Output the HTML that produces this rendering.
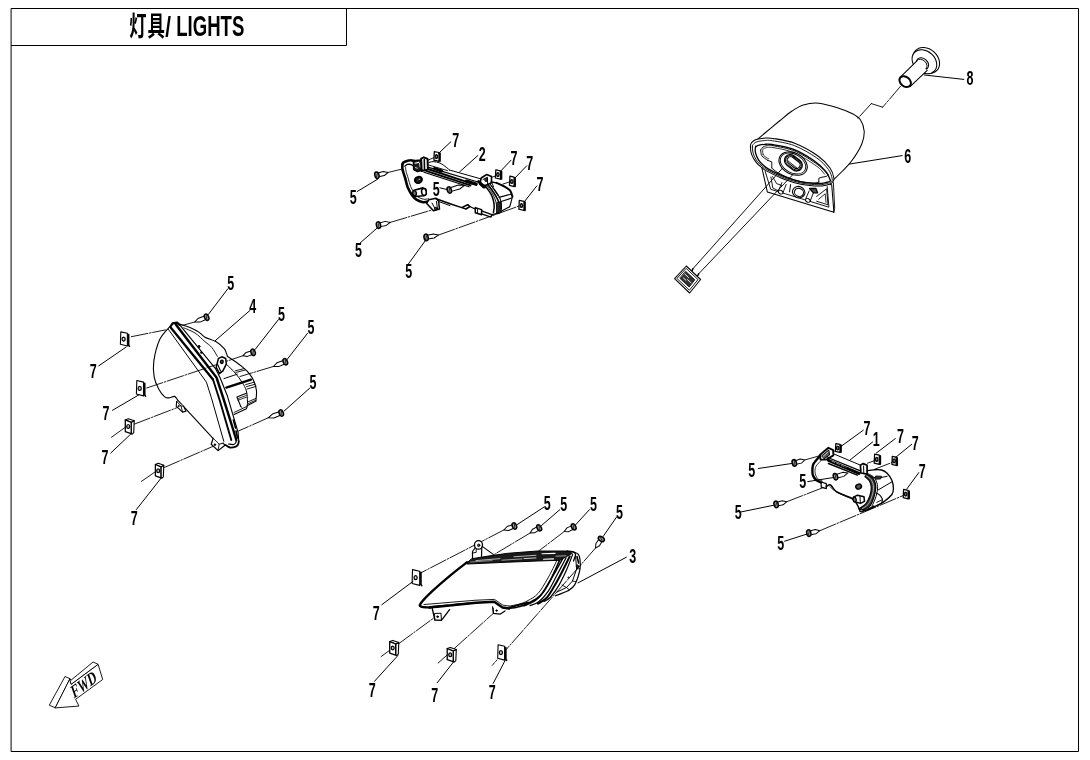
<!DOCTYPE html><html><head><meta charset="utf-8"><title>LIGHTS</title><style>html,body{margin:0;padding:0;background:#fff;overflow:hidden}svg{display:block;font-family:"Liberation Sans",sans-serif;will-change:transform}text{fill:#000}</style></head><body><svg width="1090" height="760" viewBox="0 0 1090 760" stroke-linecap="round" stroke-linejoin="round"><rect width="1090" height="760" fill="#fff"/>
<rect x="11.5" y="8.5" width="1067" height="743" fill="none" stroke="#000" stroke-width="1"/>
<path d="M11.5,45.5 H346.5 V8.5" fill="none" stroke="#000" stroke-width="1"/>
<text transform="translate(129.3,35.8) scale(0.641,1)" font-size="27" font-weight="bold" font-family="&quot;Liberation Sans&quot;,&quot;Noto Sans CJK SC&quot;,sans-serif">灯</text>
<text transform="translate(147.4,35.6) scale(0.643,1)" font-size="27" font-weight="bold" font-family="&quot;Liberation Sans&quot;,&quot;Noto Sans CJK SC&quot;,sans-serif">具</text>
<text transform="translate(165.3,35.7) scale(0.76,1)" font-size="27.2" font-weight="bold">/</text>
<text transform="translate(176.2,35.7) scale(0.645,1)" font-size="28.8" font-weight="bold">LIGHTS</text>
<line x1="388" y1="172.5" x2="401.5" y2="169.2" stroke="#000" stroke-width="0.9" stroke-dasharray="17 1.6 1.6 1.6"/>
<line x1="390.3" y1="222.4" x2="433.9" y2="209.4" stroke="#000" stroke-width="0.9" stroke-dasharray="17 1.6 1.6 1.6"/>
<line x1="438.4" y1="235.1" x2="518.9" y2="206.1" stroke="#000" stroke-width="0.9" stroke-dasharray="17 1.6 1.6 1.6"/>
<line x1="427.5" y1="160.5" x2="434" y2="157.5" stroke="#000" stroke-width="0.9" stroke-dasharray="17 1.6 1.6 1.6"/>
<line x1="491" y1="177.5" x2="495.5" y2="176" stroke="#000" stroke-width="0.9" stroke-dasharray="17 1.6 1.6 1.6"/>
<line x1="503" y1="184" x2="509.5" y2="182" stroke="#000" stroke-width="0.9" stroke-dasharray="17 1.6 1.6 1.6"/>
<g transform="translate(376.9,175.2) rotate(-13.7)"><path d="M1.5,-1.9 L7.1,-2.1 L11.4,0 L7.1,2.1 L1.5,1.9" fill="#fff" stroke="#000" stroke-width="1"/><ellipse cx="0" cy="0" rx="2.1" ry="3.3" fill="#999" stroke="#000" stroke-width="1.5"/><path d="M-0.9,1.6 L0.9,-1.6" stroke="#222" stroke-width="0.9" fill="none"/></g>
<g transform="translate(378.5,225.1) rotate(-12.9)"><path d="M1.5,-1.9 L7.5,-2.1 L12.1,0 L7.5,2.1 L1.5,1.9" fill="#fff" stroke="#000" stroke-width="1"/><ellipse cx="0" cy="0" rx="2.1" ry="3.3" fill="#999" stroke="#000" stroke-width="1.5"/><path d="M-0.9,1.6 L0.9,-1.6" stroke="#222" stroke-width="0.9" fill="none"/></g>
<g transform="translate(426.1,237.4) rotate(-10.6)"><path d="M1.5,-1.9 L7.8,-2.1 L12.5,0 L7.8,2.1 L1.5,1.9" fill="#fff" stroke="#000" stroke-width="1"/><ellipse cx="0" cy="0" rx="2.1" ry="3.3" fill="#999" stroke="#000" stroke-width="1.5"/><path d="M-0.9,1.6 L0.9,-1.6" stroke="#222" stroke-width="0.9" fill="none"/></g>
<g transform="translate(449.3,190) rotate(-17)"><path d="M1.5,-1.9 L10.2,-2.1 L16.4,0 L10.2,2.1 L1.5,1.9" fill="#fff" stroke="#000" stroke-width="1"/><ellipse cx="0" cy="0" rx="2.1" ry="3.3" fill="#999" stroke="#000" stroke-width="1.5"/><path d="M-0.9,1.6 L0.9,-1.6" stroke="#222" stroke-width="0.9" fill="none"/></g>
<path d="M434.3,151.6 L439,152.5 L439,161.4 L433.9,160.2 Z" stroke="#000" stroke-width="1.25" fill="#fff" />
<path d="M439.9,153.3 L439.9,161.1" stroke="#000" stroke-width="1.9" fill="none" />
<ellipse cx="436.4" cy="156.6" rx="1.3" ry="2" fill="#222" stroke="#000" stroke-width="1.1"/>
<ellipse cx="436.4" cy="156.6" rx="0.5" ry="0.8" fill="#bbb" stroke="none"/>
<path d="M495.8,169.9 L500.5,170.8 L500.5,179.2 L495.4,178 Z" stroke="#000" stroke-width="1.25" fill="#fff" />
<path d="M501.4,171.6 L501.4,178.9" stroke="#000" stroke-width="1.9" fill="none" />
<ellipse cx="497.9" cy="174.6" rx="1.3" ry="2" fill="#222" stroke="#000" stroke-width="1.1"/>
<ellipse cx="497.9" cy="174.6" rx="0.5" ry="0.8" fill="#bbb" stroke="none"/>
<path d="M509.9,176.2 L514.1,177.2 L514.1,186.6 L509.5,185.3 Z" stroke="#000" stroke-width="1.25" fill="#fff" />
<path d="M515,178 L515,186.3" stroke="#000" stroke-width="1.9" fill="none" />
<ellipse cx="511.8" cy="181.5" rx="1.3" ry="2" fill="#222" stroke="#000" stroke-width="1.1"/>
<ellipse cx="511.8" cy="181.5" rx="0.5" ry="0.8" fill="#bbb" stroke="none"/>
<path d="M519.3,200.3 L524,201.3 L524,210.5 L518.9,209.2 Z" stroke="#000" stroke-width="1.25" fill="#fff" />
<path d="M524.9,202.1 L524.9,210.2" stroke="#000" stroke-width="1.9" fill="none" />
<ellipse cx="521.4" cy="205.5" rx="1.3" ry="2" fill="#222" stroke="#000" stroke-width="1.1"/>
<ellipse cx="521.4" cy="205.5" rx="0.5" ry="0.8" fill="#bbb" stroke="none"/>
<line x1="357.2" y1="191.5" x2="377.6" y2="179.2" stroke="#000" stroke-width="1"/>
<line x1="360.1" y1="243" x2="378" y2="227.3" stroke="#000" stroke-width="1"/>
<line x1="408.2" y1="264.2" x2="426.1" y2="239.6" stroke="#000" stroke-width="1"/>
<line x1="439.8" y1="187.8" x2="447.3" y2="189.6" stroke="#000" stroke-width="1"/>
<line x1="450.7" y1="141.9" x2="438.4" y2="153.5" stroke="#000" stroke-width="1"/>
<line x1="477.8" y1="155.6" x2="459.6" y2="171.9" stroke="#000" stroke-width="1"/>
<line x1="511" y1="160.2" x2="499.9" y2="171.9" stroke="#000" stroke-width="1"/>
<line x1="526.7" y1="165.8" x2="514.4" y2="178.6" stroke="#000" stroke-width="1"/>
<line x1="536.7" y1="186" x2="524.5" y2="201.6" stroke="#000" stroke-width="1"/>
<text transform="translate(455.8,146.6) scale(0.625,1)" text-anchor="middle" font-size="20" font-weight="bold">7</text>
<text transform="translate(482.3,160.5) scale(0.625,1)" text-anchor="middle" font-size="20" font-weight="bold">2</text>
<text transform="translate(514,164.8) scale(0.625,1)" text-anchor="middle" font-size="20" font-weight="bold">7</text>
<text transform="translate(529.7,169.7) scale(0.625,1)" text-anchor="middle" font-size="20" font-weight="bold">7</text>
<text transform="translate(540,190.5) scale(0.625,1)" text-anchor="middle" font-size="20" font-weight="bold">7</text>
<text transform="translate(436.2,195.9) scale(0.625,1)" text-anchor="middle" font-size="20" font-weight="bold">5</text>
<text transform="translate(353.3,203.7) scale(0.625,1)" text-anchor="middle" font-size="20" font-weight="bold">5</text>
<text transform="translate(358.4,257.1) scale(0.625,1)" text-anchor="middle" font-size="20" font-weight="bold">5</text>
<text transform="translate(408.7,278.4) scale(0.625,1)" text-anchor="middle" font-size="20" font-weight="bold">5</text>
<path d="M402.4,164.4 C402.4,165.3 402.1,167.4 402.6,169.7 C403.1,172 404.3,175.2 405.2,178.2 C406.1,181.2 406.6,184.8 407.8,187.6 C409,190.4 410.7,193.3 412.1,195.3 C413.5,197.3 414.5,198.4 416.4,199.6 C418.2,200.8 421.1,201.9 423.2,202.2 C425.3,202.5 428,201.4 429,201.2" stroke="#000" stroke-width="2.6" fill="none" />
<path d="M405.6,167.5 C405.7,168.1 405.6,169.2 406,171 C406.4,172.8 407.4,175.6 408.2,178.2 C409,180.8 409.6,183.9 410.6,186.4 C411.6,188.9 413.2,191.4 414.4,193.2 C415.6,195 416.5,196 418,197 C419.5,198 421.9,198.9 423.6,199.2 C425.4,199.5 427.7,198.9 428.5,198.8" stroke="#000" stroke-width="0.9" fill="none" />
<path d="M402.4,164.4 C402.6,164.1 402.8,163.1 403.4,162.6 C404,162.1 404.9,161.6 406.1,161.2 C407.3,160.8 409.1,160.2 410.4,160.2 C411.7,160.1 413.4,160.8 414,160.9" stroke="#000" stroke-width="2.6" fill="none" />
<path d="M404.8,166.2 L407,164.4 L409.6,164.1 L413.4,165.6" stroke="#000" stroke-width="1.3" fill="none" />
<path d="M413.3,160.6 L421.2,160 L421.5,170.6 L417.5,171.6 L413.6,169.6 Z" stroke="#000" stroke-width="1.4" fill="#1a1a1a" />
<path d="M415,163.2 L418.6,162.4" stroke="#fff" stroke-width="1.1" fill="none" />
<path d="M415.4,167.6 L417.4,168.2" stroke="#eee" stroke-width="0.9" fill="none" />
<path d="M419.6,163 L420,167" stroke="#eee" stroke-width="0.9" fill="none" />
<path d="M421.2,158.5 L423.8,157.3 L427.6,158.8 L427.8,169.6 L421.7,171 Z" stroke="#000" stroke-width="1.9" fill="#fff" />
<line x1="424.3" y1="159.6" x2="424.5" y2="170" stroke="#000" stroke-width="1.6"/>
<line x1="427.8" y1="167.2" x2="478" y2="182" stroke="#000" stroke-width="1.2"/>
<line x1="427.8" y1="169" x2="472" y2="183.6" stroke="#000" stroke-width="1.9"/>
<line x1="426" y1="170.8" x2="470.5" y2="185.4" stroke="#000" stroke-width="1.9"/>
<line x1="424" y1="172.2" x2="469" y2="186.8" stroke="#000" stroke-width="1.2"/>
<path d="M434.6,168.6 L441.7,171" stroke="#000" stroke-width="3.2" fill="none" />
<path d="M466.5,181.2 L476,184.2" stroke="#000" stroke-width="3.4" fill="none" />
<path d="M428,162.8 C428.8,162.6 431,161.6 433,161.6 C435,161.6 437.6,162.1 439.8,163 C442,163.9 444.6,166 446.2,167.2 C447.8,168.4 448.9,169.5 449.4,170" stroke="#000" stroke-width="1" fill="none" />
<line x1="449.4" y1="170" x2="482.8" y2="179.4" stroke="#000" stroke-width="1"/>
<line x1="428" y1="164.8" x2="447.5" y2="170.6" stroke="#000" stroke-width="0.9"/>
<ellipse cx="418.4" cy="179.9" rx="3.6" ry="3" transform="rotate(-20 418.4 179.9)" fill="#222" stroke="#000" stroke-width="2"/>
<ellipse cx="419.4" cy="179.2" rx="1" ry="0.8" transform="rotate(-20 419.4 179.2)" fill="#eee" stroke="#000" stroke-width="0.5"/>
<path d="M414,190.2 L423,187.9 L425.8,189.3 L426.3,193.8 L423.8,195.8 L415,196.5 L412.6,194 Z" stroke="#000" stroke-width="1.6" fill="#fff" />
<ellipse cx="423.9" cy="192" rx="2.3" ry="3.4" transform="rotate(-10 423.9 192)" fill="#fff" stroke="#000" stroke-width="1.5"/>
<ellipse cx="414.6" cy="193.2" rx="1.8" ry="2.6" transform="rotate(-10 414.6 193.2)" fill="#777" stroke="#000" stroke-width="1.4"/>
<path d="M428.8,199.8 L436.1,198.3 L438.6,201.3 L439.5,209 L433.5,210.7 L426.7,203.5 Z" stroke="#000" stroke-width="1.5" fill="#fff" />
<line x1="432" y1="203" x2="435.5" y2="209.5" stroke="#000" stroke-width="1"/>
<line x1="436.5" y1="201.5" x2="437.5" y2="209" stroke="#000" stroke-width="1"/>
<ellipse cx="435.8" cy="208.6" rx="1.3" ry="1.3" transform="rotate(0 435.8 208.6)" fill="#444" stroke="#000" stroke-width="1"/>
<path d="M436.1,198.8 L450.8,204 L461.7,207.6 L467.7,204.7 L469.9,206.5 L466,209 L461.7,207.6" stroke="#000" stroke-width="1.5" fill="none" />
<line x1="438.6" y1="201.5" x2="450" y2="205.6" stroke="#000" stroke-width="1"/>
<path d="M469.9,206.5 L475,209" stroke="#000" stroke-width="1.3" fill="none" />
<path d="M475.3,207.6 L481.6,209.6 L481.6,214.7 L475.3,212.7 Z" stroke="#000" stroke-width="1.5" fill="#fff" />
<line x1="477.5" y1="208.5" x2="477.5" y2="213.2" stroke="#000" stroke-width="0.9"/>
<path d="M481.2,178 L486.7,174.5 L491.5,176.6 L491.5,182.8 L485.3,185.6 L479.8,184.2 Z" stroke="#000" stroke-width="1.6" fill="#fff" />
<path d="M483,179.5 L487.5,177.2 L487.6,183.6" stroke="#000" stroke-width="1" fill="none" />
<ellipse cx="486" cy="180" rx="1.2" ry="1.6" transform="rotate(0 486 180)" fill="#555" stroke="#000" stroke-width="1"/>
<path d="M478.6,181.6 L484.6,187" stroke="#000" stroke-width="3" fill="none" />
<path d="M480,184.6 L483.4,187.8" stroke="#000" stroke-width="1.4" fill="none" />
<path d="M491.4,182 L496.6,182.8" stroke="#000" stroke-width="1.3" fill="none" />
<path d="M496.6,182.8 C497.8,183.3 501.3,184.8 503.5,186 C505.7,187.2 508.5,188.5 510,190.3 C511.5,192.1 512,195.6 512.4,196.6" stroke="#000" stroke-width="2" fill="none" />
<path d="M512.4,196.6 C512.1,197.9 510.9,202.8 510.4,204.5 C509.9,206.2 509.7,206.4 509.6,206.8" stroke="#000" stroke-width="1.1" fill="none" />
<path d="M509.6,206.8 L502.1,210.8 L499,212.6" stroke="#000" stroke-width="1.2" fill="none" />
<path d="M487.9,184.7 C488.7,185.8 491.2,188.9 492.6,191 C494.1,193.1 495.6,195.4 496.6,197.4 C497.7,199.4 498.4,200.9 498.9,202.9 C499.4,204.9 499.7,207.5 499.7,209.2 C499.7,210.9 499.1,212.4 499,213.1" stroke="#000" stroke-width="1.6" fill="none" />
<path d="M485.5,186.3 C486.4,187.6 489.7,191.8 491,194.2 C492.3,196.6 492.9,198.4 493.4,200.5 C493.9,202.6 494.2,204.8 494.2,206.8 C494.2,208.8 493.5,211.6 493.4,212.6" stroke="#000" stroke-width="1.5" fill="none" />
<path d="M486.8,185.6 C487.6,186.8 490.4,190.4 491.8,192.6 C493.2,194.8 494.2,196.9 495,199 C495.8,201.1 496.2,202.7 496.5,205 C496.8,207.3 496.6,211.5 496.6,212.8" stroke="#000" stroke-width="0.9" fill="none" />
<path d="M490.2,184.4 C491,185.4 493.7,188.5 495.2,190.6 C496.7,192.7 498.2,194.8 499.2,196.8 C500.2,198.8 500.8,200.5 501.2,202.5 C501.6,204.5 501.4,207.9 501.5,209" stroke="#000" stroke-width="1.1" fill="none" />
<path d="M497.2,202.5 L500.8,202 L501.3,212 L497,213 Z" stroke="#000" stroke-width="0.8" fill="#222" />
<path d="M491.8,186.3 L498.1,195.8" stroke="#000" stroke-width="1" fill="none" />
<line x1="499" y1="197.4" x2="510.8" y2="194.2" stroke="#000" stroke-width="1.1"/>
<line x1="499.7" y1="202.1" x2="511.6" y2="198.1" stroke="#000" stroke-width="1.1"/>
<path d="M491.4,182 L493.5,186.5" stroke="#000" stroke-width="1" fill="none" />
<path d="M481.6,210.8 L491.8,214.7 L499,213.1" stroke="#000" stroke-width="1.3" fill="none" />
<path d="M481.6,213.9 L491,217.1 L491.8,214.7" stroke="#000" stroke-width="1.2" fill="none" />
<line x1="131.3" y1="336.7" x2="165.5" y2="329.9" stroke="#000" stroke-width="0.9" stroke-dasharray="17 1.6 1.6 1.6"/>
<line x1="194.6" y1="322" x2="182" y2="325.5" stroke="#000" stroke-width="0.9" stroke-dasharray="17 1.6 1.6 1.6"/>
<line x1="146.7" y1="388" x2="243" y2="355.7" stroke="#000" stroke-width="0.9" stroke-dasharray="17 1.6 1.6 1.6"/>
<line x1="273.3" y1="366.5" x2="240" y2="376.5" stroke="#000" stroke-width="0.9" stroke-dasharray="17 1.6 1.6 1.6"/>
<line x1="134.2" y1="424.2" x2="179.2" y2="406.8" stroke="#000" stroke-width="0.9" stroke-dasharray="17 1.6 1.6 1.6"/>
<line x1="125.3" y1="427.3" x2="111" y2="437.6" stroke="#000" stroke-width="0.9" stroke-dasharray="17 1.6 1.6 1.6"/>
<line x1="163.8" y1="467.7" x2="213.4" y2="446.2" stroke="#000" stroke-width="0.9" stroke-dasharray="17 1.6 1.6 1.6"/>
<line x1="155.4" y1="471.7" x2="141.1" y2="481.6" stroke="#000" stroke-width="0.9" stroke-dasharray="17 1.6 1.6 1.6"/>
<line x1="268.2" y1="417.8" x2="238.5" y2="431" stroke="#000" stroke-width="0.9" stroke-dasharray="17 1.6 1.6 1.6"/>
<g transform="translate(206.6,317.2) rotate(158.2)"><path d="M1.5,-1.9 L8,-2.1 L12.9,0 L8,2.1 L1.5,1.9" fill="#fff" stroke="#000" stroke-width="1"/><ellipse cx="0" cy="0" rx="2.1" ry="3.3" fill="#999" stroke="#000" stroke-width="1.5"/><path d="M-0.9,1.6 L0.9,-1.6" stroke="#222" stroke-width="0.9" fill="none"/></g>
<g transform="translate(253.1,352.3) rotate(161.4)"><path d="M1.5,-1.9 L6.6,-2.1 L10.7,0 L6.6,2.1 L1.5,1.9" fill="#fff" stroke="#000" stroke-width="1"/><ellipse cx="0" cy="0" rx="2.1" ry="3.3" fill="#999" stroke="#000" stroke-width="1.5"/><path d="M-0.9,1.6 L0.9,-1.6" stroke="#222" stroke-width="0.9" fill="none"/></g>
<g transform="translate(285.3,361.7) rotate(158.2)"><path d="M1.5,-1.9 L8,-2.1 L12.9,0 L8,2.1 L1.5,1.9" fill="#fff" stroke="#000" stroke-width="1"/><ellipse cx="0" cy="0" rx="2.1" ry="3.3" fill="#999" stroke="#000" stroke-width="1.5"/><path d="M-0.9,1.6 L0.9,-1.6" stroke="#222" stroke-width="0.9" fill="none"/></g>
<g transform="translate(281.2,413) rotate(159.7)"><path d="M1.5,-1.9 L8.6,-2.1 L13.9,0 L8.6,2.1 L1.5,1.9" fill="#fff" stroke="#000" stroke-width="1"/><ellipse cx="0" cy="0" rx="2.1" ry="3.3" fill="#999" stroke="#000" stroke-width="1.5"/><path d="M-0.9,1.6 L0.9,-1.6" stroke="#222" stroke-width="0.9" fill="none"/></g>
<path d="M120.8,331.9 L127.4,333.3 L127.4,346 L120.4,344.3 Z" stroke="#000" stroke-width="1.1" fill="#fff" />
<path d="M128.6,334.5 L128.6,345 L129.4,346.2" stroke="#000" stroke-width="1.7" fill="none" />
<ellipse cx="123.6" cy="339.1" rx="1.6" ry="2" fill="#ccc" stroke="#000" stroke-width="1.2"/>
<path d="M136.8,380.5 L143.5,382.1 L143.5,395.9 L136.4,394 Z" stroke="#000" stroke-width="1.1" fill="#fff" />
<path d="M144.7,383.3 L144.7,394.9 L145.5,396.1" stroke="#000" stroke-width="1.7" fill="none" />
<ellipse cx="139.7" cy="388.4" rx="1.6" ry="2" fill="#ccc" stroke="#000" stroke-width="1.2"/>
<path d="M131.2,422.3 L134.2,420.7 L133.7,432.7 L132.2,434.2 L131.2,433.7 Z" stroke="#000" stroke-width="1.1" fill="#fff" />
<path d="M125.3,419.9 L128.3,418.7 L134.2,420.7 L131.2,422.3 Z" stroke="#000" stroke-width="1.1" fill="#fff" />
<path d="M125.3,419.9 L131.2,422.3 L131.2,433.7 L125.3,431.7 Z" stroke="#000" stroke-width="1.3" fill="#fff" />
<ellipse cx="128.2" cy="426.4" rx="1.5" ry="1.9" fill="#bbb" stroke="#000" stroke-width="1.2"/>
<path d="M160.9,466.9 L163.8,465.3 L163.3,476.8 L161.9,478.3 L160.9,477.8 Z" stroke="#000" stroke-width="1.1" fill="#fff" />
<path d="M155.4,464.5 L158.3,463.3 L163.8,465.3 L160.9,466.9 Z" stroke="#000" stroke-width="1.1" fill="#fff" />
<path d="M155.4,464.5 L160.9,466.9 L160.9,477.8 L155.4,475.8 Z" stroke="#000" stroke-width="1.3" fill="#fff" />
<ellipse cx="158.2" cy="470.8" rx="1.5" ry="1.9" fill="#bbb" stroke="#000" stroke-width="1.2"/>
<line x1="227.8" y1="288.8" x2="208.3" y2="314.5" stroke="#000" stroke-width="1"/>
<line x1="250" y1="310.4" x2="215.1" y2="340.8" stroke="#000" stroke-width="1"/>
<line x1="278.4" y1="319.6" x2="255.2" y2="349.4" stroke="#000" stroke-width="1"/>
<line x1="307.5" y1="333.3" x2="287" y2="359.6" stroke="#000" stroke-width="1"/>
<line x1="309.9" y1="388" x2="284.2" y2="411" stroke="#000" stroke-width="1"/>
<line x1="98.8" y1="365.8" x2="126.2" y2="347" stroke="#000" stroke-width="1"/>
<line x1="112.5" y1="410.3" x2="138.8" y2="394.9" stroke="#000" stroke-width="1"/>
<line x1="110.8" y1="453" x2="130.6" y2="434.2" stroke="#000" stroke-width="1"/>
<line x1="136.4" y1="509.5" x2="161.4" y2="477.7" stroke="#000" stroke-width="1"/>
<text transform="translate(230.8,290.1) scale(0.625,1)" text-anchor="middle" font-size="20" font-weight="bold">5</text>
<text transform="translate(252.7,312.7) scale(0.625,1)" text-anchor="middle" font-size="20" font-weight="bold">4</text>
<text transform="translate(281.5,320.6) scale(0.625,1)" text-anchor="middle" font-size="20" font-weight="bold">5</text>
<text transform="translate(310.9,334.3) scale(0.625,1)" text-anchor="middle" font-size="20" font-weight="bold">5</text>
<text transform="translate(312.9,388.7) scale(0.625,1)" text-anchor="middle" font-size="20" font-weight="bold">5</text>
<text transform="translate(93.3,377.7) scale(0.625,1)" text-anchor="middle" font-size="20" font-weight="bold">7</text>
<text transform="translate(106,419.8) scale(0.625,1)" text-anchor="middle" font-size="20" font-weight="bold">7</text>
<text transform="translate(104.9,463.9) scale(0.625,1)" text-anchor="middle" font-size="20" font-weight="bold">7</text>
<text transform="translate(134.3,524.8) scale(0.625,1)" text-anchor="middle" font-size="20" font-weight="bold">7</text>
<path d="M169.6,326.8 C167.9,328.9 162.3,333.9 159.7,339.6 C157.1,345.4 154.7,355.1 153.8,361.3 C152.9,367.6 153.4,372.5 154.2,377.1 C155,381.7 156.9,385.6 158.7,388.9 C160.4,392.2 162.9,395.3 164.7,396.8 C166.5,398.3 168,397.9 169.6,397.8 C171.2,397.7 173.2,396.1 174.5,396.4 C175.8,396.7 177,399.2 177.5,399.8" stroke="#000" stroke-width="1.1" fill="none" />
<path d="M177.5,399.8 L213,438.3" stroke="#000" stroke-width="1.1" fill="none" />
<path d="M176.7,401.3 L176.2,406.2 L182.6,412.1 L186,411.2 L183.6,406.2" stroke="#000" stroke-width="1.1" fill="#fff" />
<path d="M176.7,401.3 L181,406 L182.6,412.1" stroke="#000" stroke-width="0.9" fill="none" />
<path d="M181,406 L183.6,406.2" stroke="#000" stroke-width="0.9" fill="none" />
<path d="M213.2,438.3 L211.2,444.2 L218.1,450.6 L225,445.2 L223,443.2" stroke="#000" stroke-width="1.2" fill="#fff" />
<path d="M213.2,438.3 L219.1,444.2 L218.1,450.6" stroke="#000" stroke-width="0.9" fill="none" />
<path d="M219.1,444.2 L223,443.2" stroke="#000" stroke-width="0.9" fill="none" />
<ellipse cx="214.9" cy="444.7" rx="0.8" ry="0.9" transform="rotate(0 214.9 444.7)" fill="#000" stroke="#000" stroke-width="0.8"/>
<ellipse cx="178.6" cy="406" rx="0.6" ry="0.7" transform="rotate(0 178.6 406)" fill="#000" stroke="#000" stroke-width="0.6"/>
<path d="M168.5,329.5 L206.4,382.1 L211.3,397.5 L223.8,441.3" stroke="#000" stroke-width="1" fill="none" />
<path d="M170.9,327.8 L213,379.5" stroke="#000" stroke-width="2.3" fill="none" />
<path d="M213,379.5 L220,401.3 L231.3,440" stroke="#000" stroke-width="1.9" fill="none" />
<path d="M175.8,324.4 L216.5,377.5 L223.1,397.5 L232.5,427.5 L236.3,440" stroke="#000" stroke-width="2.4" fill="none" />
<path d="M173.4,326 L214.8,378.4" stroke="#fff" stroke-width="0.8" fill="none" />
<path d="M179.7,324.9 L215.3,368.3 L220,377.5 L227.5,396.3 L238.1,432.5 L238.8,441.3" stroke="#000" stroke-width="1.1" fill="none" />
<path d="M238.8,441.3 C238.7,441.9 238.4,443.8 238,444.6 C237.6,445.4 237.6,445.8 236.3,446.3 C235,446.8 231.8,447.7 230,447.5 C228.2,447.3 226.3,445.4 225.6,445" stroke="#000" stroke-width="1.8" fill="none" />
<path d="M236.3,440 C236.2,440.5 236.2,442.2 235.6,443 C235,443.8 234.2,444.4 233,444.6 C231.8,444.8 229.3,444.1 228.6,444" stroke="#000" stroke-width="1.2" fill="none" />
<path d="M170.5,326.5 L172.6,323.4 L177,322.6 L179.7,324.9" stroke="#000" stroke-width="2.2" fill="none" />
<ellipse cx="199" cy="346.6" rx="0.9" ry="1.3" transform="rotate(0 199 346.6)" fill="#000" stroke="#000" stroke-width="1"/>
<ellipse cx="201.3" cy="352.6" rx="0.7" ry="1" transform="rotate(0 201.3 352.6)" fill="#000" stroke="#000" stroke-width="0.8"/>
<path d="M233.4,420 L235.6,428" stroke="#000" stroke-width="1.6" fill="none" />
<path d="M236,431 L237.6,438" stroke="#000" stroke-width="1.6" fill="none" />
<path d="M180.4,324.2 C182,324.8 186.9,326.2 190,327.6 C193.1,329 196.7,330.8 199.2,332.4 C201.7,334 202.2,335.6 205,337.2 C207.8,338.8 213,339.8 216.2,341.7 C219.4,343.6 222.3,346.5 224,348.4 C225.7,350.3 225.7,351.6 226.3,352.9 C226.9,354.2 227.2,355.7 227.4,356.3" stroke="#000" stroke-width="1.1" fill="none" />
<path d="M183.7,327.8 C185.6,328.7 191.4,330.7 195,333 C198.6,335.3 202.2,339.3 205,341.7 C207.8,344.1 209.6,344.9 211.7,347.3 C213.8,349.7 216.4,354.8 217.3,356.3" stroke="#000" stroke-width="0.9" fill="none" />
<path d="M218.4,358.5 L221.8,356.8 L225.7,358.5 L226.3,364.1 L222.9,370.8 L219.5,373.6 L216.2,367.4 Z" stroke="#000" stroke-width="1.5" fill="#fff" />
<ellipse cx="221.8" cy="361.8" rx="1.4" ry="1.7" transform="rotate(15 221.8 361.8)" fill="#444" stroke="#000" stroke-width="1.3"/>
<path d="M217.4,364 L220.6,371" stroke="#000" stroke-width="1.1" fill="none" />
<path d="M227.4,356.3 C228.5,357 231.5,358.9 234.1,360.7 C236.7,362.5 240.4,365.2 243,367.4 C245.6,369.6 247.8,371.7 249.7,374.1 C251.6,376.5 253.1,379.2 254.2,382 C255.3,384.8 256.2,387.7 256.5,390.9 C256.8,394.1 256,399.3 255.9,401" stroke="#000" stroke-width="1.1" fill="none" />
<path d="M255.9,401 L254.2,402.1 L247.5,405.5 L246.4,408.8 L234.1,414.4" stroke="#000" stroke-width="1.1" fill="none" />
<path d="M227.4,365.2 C228.7,366.5 232.8,370.2 235.2,373 C237.6,375.8 240,379 241.9,382 C243.8,385 245.5,387.5 246.4,390.9 C247.3,394.2 247.4,399.7 247.5,402.1 C247.6,404.6 247.1,405 247,405.6" stroke="#000" stroke-width="1" fill="none" />
<path d="M224,378.6 L237.4,374.1" stroke="#000" stroke-width="1" fill="none" />
<path d="M235.2,370.8 L244.1,368.6" stroke="#000" stroke-width="0.9" fill="none" />
<path d="M236,372.4 L245.4,370" stroke="#000" stroke-width="0.9" fill="none" />
<path d="M226.3,387.6 L250.9,379.7" stroke="#000" stroke-width="2.3" fill="none" />
<path d="M245.6,384.6 L254.2,382.2" stroke="#000" stroke-width="0.9" fill="none" />
<path d="M246.6,386.6 L255.2,384.2" stroke="#000" stroke-width="0.9" fill="none" />
<path d="M247.2,389 L256,386.4" stroke="#000" stroke-width="0.9" fill="none" />
<path d="M240.8,406.6 L238.6,401 L236.9,397.1 L246.4,393.2" stroke="#000" stroke-width="1.1" fill="none" />
<path d="M237.4,398.8 L246.4,395.4" stroke="#000" stroke-width="0.8" fill="none" />
<path d="M238,400.2 L246.4,397.2" stroke="#000" stroke-width="0.8" fill="none" />
<path d="M247.5,402.1 L255.9,398.4" stroke="#000" stroke-width="0.9" fill="none" />
<path d="M247.4,404 L255.6,400.2" stroke="#000" stroke-width="0.8" fill="none" />
<path d="M234.1,412.4 L246.6,406.6" stroke="#000" stroke-width="0.9" fill="none" />
<path d="M240.8,406.6 L242,407.6" stroke="#000" stroke-width="0.9" fill="none" />
<line x1="503.8" y1="530" x2="419" y2="573.8" stroke="#000" stroke-width="0.9" stroke-dasharray="17 1.6 1.6 1.6"/>
<line x1="530.1" y1="533" x2="494.7" y2="554.2" stroke="#000" stroke-width="0.9" stroke-dasharray="17 1.6 1.6 1.6"/>
<line x1="564.3" y1="531.5" x2="538.6" y2="551.1" stroke="#000" stroke-width="0.9" stroke-dasharray="17 1.6 1.6 1.6"/>
<line x1="595.5" y1="548.1" x2="492.3" y2="665.3" stroke="#000" stroke-width="0.9" stroke-dasharray="17 1.6 1.6 1.6"/>
<line x1="381.2" y1="656.5" x2="434.2" y2="617.7" stroke="#000" stroke-width="0.9" stroke-dasharray="17 1.6 1.6 1.6"/>
<line x1="438.1" y1="663.1" x2="496.2" y2="610.8" stroke="#000" stroke-width="0.9" stroke-dasharray="17 1.6 1.6 1.6"/>
<g transform="translate(514.4,526) rotate(159.3)"><path d="M1.5,-1.9 L7,-2.1 L11.3,0 L7,2.1 L1.5,1.9" fill="#fff" stroke="#000" stroke-width="1"/><ellipse cx="0" cy="0" rx="2.1" ry="3.3" fill="#999" stroke="#000" stroke-width="1.5"/><path d="M-0.9,1.6 L0.9,-1.6" stroke="#222" stroke-width="0.9" fill="none"/></g>
<g transform="translate(539.2,527.8) rotate(150.3)"><path d="M1.5,-1.9 L6.5,-2.1 L10.5,0 L6.5,2.1 L1.5,1.9" fill="#fff" stroke="#000" stroke-width="1"/><ellipse cx="0" cy="0" rx="2.1" ry="3.3" fill="#999" stroke="#000" stroke-width="1.5"/><path d="M-0.9,1.6 L0.9,-1.6" stroke="#222" stroke-width="0.9" fill="none"/></g>
<g transform="translate(573.7,526.9) rotate(153.9)"><path d="M1.5,-1.9 L6.5,-2.1 L10.5,0 L6.5,2.1 L1.5,1.9" fill="#fff" stroke="#000" stroke-width="1"/><ellipse cx="0" cy="0" rx="2.1" ry="3.3" fill="#999" stroke="#000" stroke-width="1.5"/><path d="M-0.9,1.6 L0.9,-1.6" stroke="#222" stroke-width="0.9" fill="none"/></g>
<g transform="translate(601.3,539) rotate(122.5)"><path d="M1.5,-1.9 L6.7,-2.1 L10.8,0 L6.7,2.1 L1.5,1.9" fill="#fff" stroke="#000" stroke-width="1"/><ellipse cx="0" cy="0" rx="2.1" ry="3.3" fill="#999" stroke="#000" stroke-width="1.5"/><path d="M-0.9,1.6 L0.9,-1.6" stroke="#222" stroke-width="0.9" fill="none"/></g>
<path d="M412.5,569.6 L419.7,571.2 L419.7,585.4 L412.1,583.5 Z" stroke="#000" stroke-width="1.1" fill="#fff" />
<path d="M420.9,572.4 L420.9,584.4 L421.7,585.6" stroke="#000" stroke-width="1.7" fill="none" />
<ellipse cx="415.6" cy="577.7" rx="1.6" ry="2" fill="#ccc" stroke="#000" stroke-width="1.2"/>
<path d="M395.7,644 L398.8,642.4 L398.3,654.1 L396.7,655.6 L395.7,655.1 Z" stroke="#000" stroke-width="1.1" fill="#fff" />
<path d="M389.7,641.6 L392.8,640.4 L398.8,642.4 L395.7,644 Z" stroke="#000" stroke-width="1.1" fill="#fff" />
<path d="M389.7,641.6 L395.7,644 L395.7,655.1 L389.7,653.1 Z" stroke="#000" stroke-width="1.3" fill="#fff" />
<ellipse cx="392.7" cy="648" rx="1.5" ry="1.9" fill="#bbb" stroke="#000" stroke-width="1.2"/>
<path d="M453.2,651 L456.3,649.4 L455.8,660.7 L454.2,662.2 L453.2,661.7 Z" stroke="#000" stroke-width="1.1" fill="#fff" />
<path d="M447.2,648.6 L450.3,647.4 L456.3,649.4 L453.2,651 Z" stroke="#000" stroke-width="1.1" fill="#fff" />
<path d="M447.2,648.6 L453.2,651 L453.2,661.7 L447.2,659.7 Z" stroke="#000" stroke-width="1.3" fill="#fff" />
<ellipse cx="450.2" cy="654.8" rx="1.5" ry="1.9" fill="#bbb" stroke="#000" stroke-width="1.2"/>
<path d="M498.1,644.7 L504.6,646.3 L504.6,660.1 L497.7,658.2 Z" stroke="#000" stroke-width="1.1" fill="#fff" />
<path d="M505.8,647.5 L505.8,659.1 L506.6,660.3" stroke="#000" stroke-width="1.7" fill="none" />
<ellipse cx="500.9" cy="652.6" rx="1.6" ry="2" fill="#ccc" stroke="#000" stroke-width="1.2"/>
<line x1="543.8" y1="507.2" x2="516.8" y2="524.8" stroke="#000" stroke-width="1"/>
<line x1="559.8" y1="509.7" x2="541.5" y2="525.5" stroke="#000" stroke-width="1"/>
<line x1="589.4" y1="509.7" x2="575.6" y2="524.8" stroke="#000" stroke-width="1"/>
<line x1="616.6" y1="517" x2="603.1" y2="536.5" stroke="#000" stroke-width="1"/>
<line x1="626.4" y1="557.2" x2="578" y2="582.9" stroke="#000" stroke-width="1"/>
<line x1="381.8" y1="604.7" x2="413" y2="581.4" stroke="#000" stroke-width="1"/>
<line x1="374.5" y1="681.3" x2="397.8" y2="655.6" stroke="#000" stroke-width="1"/>
<line x1="437.2" y1="682.8" x2="453.8" y2="661.6" stroke="#000" stroke-width="1"/>
<line x1="493.2" y1="683.4" x2="505.3" y2="660.1" stroke="#000" stroke-width="1"/>
<text transform="translate(547.1,509.8) scale(0.625,1)" text-anchor="middle" font-size="20" font-weight="bold">5</text>
<text transform="translate(563.7,511.3) scale(0.625,1)" text-anchor="middle" font-size="20" font-weight="bold">5</text>
<text transform="translate(593.4,511.3) scale(0.625,1)" text-anchor="middle" font-size="20" font-weight="bold">5</text>
<text transform="translate(619.4,518.9) scale(0.625,1)" text-anchor="middle" font-size="20" font-weight="bold">5</text>
<text transform="translate(632.7,562.8) scale(0.625,1)" text-anchor="middle" font-size="20" font-weight="bold">3</text>
<text transform="translate(376.3,620.3) scale(0.625,1)" text-anchor="middle" font-size="20" font-weight="bold">7</text>
<text transform="translate(372.1,696.6) scale(0.625,1)" text-anchor="middle" font-size="20" font-weight="bold">7</text>
<text transform="translate(434.8,702.3) scale(0.625,1)" text-anchor="middle" font-size="20" font-weight="bold">7</text>
<text transform="translate(492.3,698.7) scale(0.625,1)" text-anchor="middle" font-size="20" font-weight="bold">7</text>
<path d="M475,548 L472.5,551.5 L472.5,558.4" stroke="#000" stroke-width="1.2" fill="none" />
<path d="M481.8,547.4 L481.5,556.8" stroke="#000" stroke-width="1.2" fill="none" />
<path d="M476.2,549.2 L476.2,552.4 L472.5,553" stroke="#000" stroke-width="0.9" fill="none" />
<ellipse cx="478.5" cy="544.9" rx="4" ry="4.3" transform="rotate(0 478.5 544.9)" fill="#fff" stroke="#000" stroke-width="1.3"/>
<ellipse cx="478.7" cy="545.3" rx="1.1" ry="1.3" transform="rotate(0 478.7 545.3)" fill="#666" stroke="#000" stroke-width="1"/>
<line x1="482.3" y1="546.4" x2="495.9" y2="556.4" stroke="#000" stroke-width="1.1"/>
<path d="M467,562.2 C464.4,564.3 457.2,569.7 451.3,574.6 C445.4,579.5 436.6,587.1 431.5,591.9 C426.4,596.7 422.4,601 420.7,603.5 C419,606 419.7,605.9 421.2,606.6 C422.7,607.3 428.4,607.4 429.8,607.6" stroke="#000" stroke-width="2.3" fill="none" />
<path d="M429.8,607.6 L476.1,602.7 L494.2,601.8 L502.5,607.6 L509.1,608.4" stroke="#000" stroke-width="2.5" fill="none" />
<path d="M509.1,608.6 C510.9,608.2 516.7,607.3 520,606.4 C523.3,605.5 525.5,604.8 528.9,603 C532.3,601.2 536.9,599.3 540.5,595.4 C544.1,591.5 547.5,585.2 550.7,579.4 C553.9,573.6 558,563.7 559.5,560.6" stroke="#000" stroke-width="1.6" fill="none" />
<path d="M424,604.5 L476,600.2 L494.5,599.4 L503,605.2 L509,606" stroke="#000" stroke-width="0.9" fill="none" />
<path d="M509,606.2 C510.8,605.8 516.4,604.9 519.5,604 C522.6,603.1 524.8,602.4 527.9,600.6 C531,598.8 534.8,597.2 538.1,593.4 C541.5,589.6 544.9,583.4 548,578 C551.1,572.6 555.2,563.8 556.6,561" stroke="#000" stroke-width="0.9" fill="none" />
<path d="M466.6,563 L471.9,558.7 L490,555.8 L507.7,553.3 L537.5,551 L567.3,551 L572.5,553.2 L560,560.3 L537.5,561 L507.7,562.2 L467.2,564 Z" stroke="#000" stroke-width="1" fill="#1a1a1a" />
<line x1="542" y1="553.8" x2="555" y2="553.4" stroke="#fff" stroke-width="1.1"/>
<line x1="543.5" y1="559.2" x2="553.5" y2="558.9" stroke="#fff" stroke-width="1.1"/>
<line x1="514" y1="556.8" x2="536" y2="555.3" stroke="#ddd" stroke-width="0.8"/>
<line x1="476" y1="560.6" x2="500" y2="558.6" stroke="#ddd" stroke-width="0.8"/>
<line x1="502" y1="560.2" x2="522" y2="558.9" stroke="#ddd" stroke-width="0.7"/>
<line x1="524" y1="558.6" x2="536" y2="557.9" stroke="#fff" stroke-width="0.8"/>
<line x1="470.5" y1="562" x2="492" y2="560.6" stroke="#ccc" stroke-width="0.6"/>
<line x1="556" y1="556.2" x2="566" y2="555.8" stroke="#ddd" stroke-width="0.7"/>
<path d="M562.6,558.9 C561,561.8 556.2,570.5 553,576 C549.8,581.5 546.4,588.1 543.5,592.2 C540.6,596.3 538.8,598.2 535.5,600.5 C532.2,602.8 525.9,605.1 524,606" stroke="#000" stroke-width="1.3" fill="none" />
<path d="M566.1,557.7 C564.6,560.6 560,569.4 557,575 C554,580.6 551.3,586.6 548.3,591.1 C545.2,595.6 541.8,599.4 538.7,601.8 C535.7,604.2 531.5,605 530,605.6" stroke="#000" stroke-width="1.2" fill="none" />
<path d="M569.7,556.5 C568.4,559.1 564.6,567 562,572 C559.4,577 556.8,582 554.2,586.3 C551.6,590.6 549.2,595.1 546.5,598 C543.8,600.9 539.4,602.7 538,603.6" stroke="#000" stroke-width="2" fill="none" />
<path d="M572.6,554.6 C571.6,557.2 568.8,564.9 566.5,570 C564.2,575.1 561.6,580.6 559,585.1 C556.4,589.6 553.1,594.3 550.6,597 C548.1,599.7 545.1,600.8 544,601.5" stroke="#000" stroke-width="1.2" fill="none" />
<path d="M567.3,551 C568.2,551.1 571.1,551.1 572.5,551.6 C573.9,552.1 575.3,552.6 575.5,554.2 C575.7,555.8 573.8,559.9 573.5,561" stroke="#000" stroke-width="1.3" fill="none" />
<path d="M573,551.6 C573.9,552 577,552.9 578.1,554.1 C579.2,555.3 579.6,556.3 579.9,558.9 C580.2,561.5 580.8,565.2 579.9,569.6 C579,574 576.6,581.5 574.5,585.1 C572.4,588.7 570.5,589.3 567.3,591.1 C564.1,592.9 557.4,595 555.4,595.8" stroke="#000" stroke-width="1.2" fill="none" />
<path d="M575.6,556.5 L576.6,569 L572.5,581 L566.5,587.5 L557,592" stroke="#000" stroke-width="1" fill="none" />
<path d="M576.6,569 L579.8,568.6" stroke="#000" stroke-width="0.9" fill="none" />
<path d="M572.5,581 L575.6,581.6" stroke="#000" stroke-width="0.9" fill="none" />
<path d="M566.5,587.5 L569,589.6" stroke="#000" stroke-width="0.9" fill="none" />
<ellipse cx="577.4" cy="566.4" rx="1.1" ry="1.6" transform="rotate(0 577.4 566.4)" fill="#333" stroke="#000" stroke-width="1"/>
<path d="M577,556.5 L578.6,563" stroke="#000" stroke-width="1.6" fill="none" />
<ellipse cx="568.6" cy="577.6" rx="0.7" ry="0.7" transform="rotate(0 568.6 577.6)" fill="#fff" stroke="#000" stroke-width="0.8"/>
<path d="M562,585 L566.5,587.5" stroke="#000" stroke-width="0.9" fill="none" />
<path d="M432.3,608.5 L434.8,620 L441.4,620.3 L449.6,609.6" stroke="#000" stroke-width="1.3" fill="#fff" />
<path d="M434.8,620 L434.5,613.5 L441,613.2 L441.4,620.3" stroke="#000" stroke-width="1" fill="none" />
<ellipse cx="437.6" cy="616.7" rx="0.9" ry="0.9" transform="rotate(0 437.6 616.7)" fill="#000" stroke="#000" stroke-width="0.8"/>
<path d="M492.6,606.8 L493.4,613.4 L500,614.2 L505,610.9" stroke="#000" stroke-width="1.2" fill="#fff" />
<path d="M493.4,613.4 L493.2,608.5" stroke="#000" stroke-width="1" fill="none" />
<ellipse cx="496.6" cy="610.6" rx="0.8" ry="0.8" transform="rotate(0 496.6 610.6)" fill="#000" stroke="#000" stroke-width="0.8"/>
<line x1="430" y1="607" x2="448" y2="605.4" stroke="#000" stroke-width="1.8"/>
<line x1="455" y1="604.6" x2="476" y2="602.7" stroke="#000" stroke-width="1.6"/>
<line x1="510" y1="607.4" x2="528" y2="602.4" stroke="#000" stroke-width="1.8"/>
<line x1="804.8" y1="460" x2="820.9" y2="455.4" stroke="#000" stroke-width="0.9" stroke-dasharray="17 1.6 1.6 1.6"/>
<line x1="786.6" y1="501.8" x2="822.9" y2="487.7" stroke="#000" stroke-width="0.9" stroke-dasharray="17 1.6 1.6 1.6"/>
<line x1="819.9" y1="530.7" x2="902.6" y2="495.8" stroke="#000" stroke-width="0.9" stroke-dasharray="17 1.6 1.6 1.6"/>
<line x1="867.5" y1="463.2" x2="875" y2="460.5" stroke="#000" stroke-width="0.9" stroke-dasharray="17 1.6 1.6 1.6"/>
<line x1="874" y1="469.5" x2="892" y2="462.5" stroke="#000" stroke-width="0.9" stroke-dasharray="17 1.6 1.6 1.6"/>
<line x1="833.5" y1="451.5" x2="836" y2="450.5" stroke="#000" stroke-width="0.9" stroke-dasharray="17 1.6 1.6 1.6"/>
<g transform="translate(794.3,462.9) rotate(-15.4)"><path d="M1.5,-1.9 L6.8,-2.1 L10.9,0 L6.8,2.1 L1.5,1.9" fill="#fff" stroke="#000" stroke-width="1"/><ellipse cx="0" cy="0" rx="2.1" ry="3.3" fill="#999" stroke="#000" stroke-width="1.5"/><path d="M-0.9,1.6 L0.9,-1.6" stroke="#222" stroke-width="0.9" fill="none"/></g>
<g transform="translate(776.1,504.4) rotate(-13.9)"><path d="M1.5,-1.9 L6.7,-2.1 L10.8,0 L6.7,2.1 L1.5,1.9" fill="#fff" stroke="#000" stroke-width="1"/><ellipse cx="0" cy="0" rx="2.1" ry="3.3" fill="#999" stroke="#000" stroke-width="1.5"/><path d="M-0.9,1.6 L0.9,-1.6" stroke="#222" stroke-width="0.9" fill="none"/></g>
<g transform="translate(808.8,533.1) rotate(-12.2)"><path d="M1.5,-1.9 L7,-2.1 L11.4,0 L7,2.1 L1.5,1.9" fill="#fff" stroke="#000" stroke-width="1"/><ellipse cx="0" cy="0" rx="2.1" ry="3.3" fill="#999" stroke="#000" stroke-width="1.5"/><path d="M-0.9,1.6 L0.9,-1.6" stroke="#222" stroke-width="0.9" fill="none"/></g>
<g transform="translate(835.5,476.7) rotate(-17)"><path d="M1.5,-1.9 L8,-2.1 L13,0 L8,2.1 L1.5,1.9" fill="#fff" stroke="#000" stroke-width="1"/><ellipse cx="0" cy="0" rx="2.1" ry="3.3" fill="#999" stroke="#000" stroke-width="1.5"/><path d="M-0.9,1.6 L0.9,-1.6" stroke="#222" stroke-width="0.9" fill="none"/></g>
<path d="M835.8,443.6 L840,444.4 L840,452.4 L835.4,451.3 Z" stroke="#000" stroke-width="1.25" fill="#fff" />
<path d="M840.9,445.2 L840.9,452.1" stroke="#000" stroke-width="1.9" fill="none" />
<ellipse cx="837.7" cy="448" rx="1.3" ry="2" fill="#222" stroke="#000" stroke-width="1.1"/>
<ellipse cx="837.7" cy="448" rx="0.5" ry="0.8" fill="#bbb" stroke="none"/>
<path d="M874.6,454.2 L879.3,455.2 L879.3,464.4 L874.2,463.1 Z" stroke="#000" stroke-width="1.25" fill="#fff" />
<path d="M880.2,456 L880.2,464.1" stroke="#000" stroke-width="1.9" fill="none" />
<ellipse cx="876.7" cy="459.4" rx="1.3" ry="2" fill="#222" stroke="#000" stroke-width="1.1"/>
<ellipse cx="876.7" cy="459.4" rx="0.5" ry="0.8" fill="#bbb" stroke="none"/>
<path d="M892.3,456.3 L896.2,457.1 L896.2,465.5 L891.9,464.4 Z" stroke="#000" stroke-width="1.25" fill="#fff" />
<path d="M897.1,457.9 L897.1,465.2" stroke="#000" stroke-width="1.9" fill="none" />
<ellipse cx="894.1" cy="460.9" rx="1.3" ry="2" fill="#222" stroke="#000" stroke-width="1.1"/>
<ellipse cx="894.1" cy="460.9" rx="0.5" ry="0.8" fill="#bbb" stroke="none"/>
<path d="M903.6,489.4 L908.1,490.3 L908.1,498.8 L903.2,497.6 Z" stroke="#000" stroke-width="1.25" fill="#fff" />
<path d="M909,491.1 L909,498.5" stroke="#000" stroke-width="1.9" fill="none" />
<ellipse cx="905.7" cy="494.1" rx="1.3" ry="2" fill="#222" stroke="#000" stroke-width="1.1"/>
<ellipse cx="905.7" cy="494.1" rx="0.5" ry="0.8" fill="#bbb" stroke="none"/>
<line x1="863.3" y1="430.2" x2="841.1" y2="446.3" stroke="#000" stroke-width="1"/>
<line x1="872.6" y1="442" x2="850.3" y2="459.8" stroke="#000" stroke-width="1"/>
<line x1="895.3" y1="438.6" x2="876.4" y2="453" stroke="#000" stroke-width="1"/>
<line x1="911.7" y1="444.3" x2="895.6" y2="457.4" stroke="#000" stroke-width="1"/>
<line x1="918.8" y1="472.6" x2="906.7" y2="489.1" stroke="#000" stroke-width="1"/>
<line x1="758.3" y1="468.5" x2="791.6" y2="463.5" stroke="#000" stroke-width="1"/>
<line x1="807.8" y1="481.6" x2="833" y2="477.6" stroke="#000" stroke-width="1"/>
<line x1="741.2" y1="511.9" x2="773.5" y2="505.3" stroke="#000" stroke-width="1"/>
<line x1="784.6" y1="541.2" x2="806.8" y2="534.1" stroke="#000" stroke-width="1"/>
<text transform="translate(867,435) scale(0.625,1)" text-anchor="middle" font-size="20" font-weight="bold">7</text>
<text transform="translate(876.2,446) scale(0.625,1)" text-anchor="middle" font-size="20" font-weight="bold">1</text>
<text transform="translate(900.5,443) scale(0.625,1)" text-anchor="middle" font-size="20" font-weight="bold">7</text>
<text transform="translate(915.3,449.7) scale(0.625,1)" text-anchor="middle" font-size="20" font-weight="bold">7</text>
<text transform="translate(922.1,478.4) scale(0.625,1)" text-anchor="middle" font-size="20" font-weight="bold">7</text>
<text transform="translate(751.8,476.9) scale(0.625,1)" text-anchor="middle" font-size="20" font-weight="bold">5</text>
<text transform="translate(802.6,488.4) scale(0.625,1)" text-anchor="middle" font-size="20" font-weight="bold">5</text>
<text transform="translate(738.1,518.7) scale(0.625,1)" text-anchor="middle" font-size="20" font-weight="bold">5</text>
<text transform="translate(780.8,550.4) scale(0.625,1)" text-anchor="middle" font-size="20" font-weight="bold">5</text>
<path d="M820.1,454.8 L828.4,447.7 L833.1,450.1 L833.4,455.4 L826,459.7 L820.4,459.5 Z" stroke="#000" stroke-width="1.8" fill="#fff" />
<path d="M822,455.6 L828.8,449.9 L829.6,455 L824.4,458.6 Z" stroke="#000" stroke-width="1" fill="#555" />
<path d="M823.4,456 L828,452" stroke="#eee" stroke-width="0.8" fill="none" />
<path d="M820.1,455.6 C819,457 814.9,461.4 813.6,463.7 C812.3,466 812.5,467.6 812.4,469.6 C812.3,471.6 812.3,473.7 813,475.5 C813.7,477.3 815,479.1 816.5,480.3 C818,481.5 820.9,482.3 821.8,482.7" stroke="#000" stroke-width="2.4" fill="none" />
<path d="M822.2,459.5 C821.2,460.6 817.4,464 816.2,466 C815,468 815,469.8 815,471.5 C815,473.2 815.4,474.7 816,476 C816.6,477.3 817.6,478.6 818.6,479.4 C819.6,480.2 821.4,480.6 822,480.8" stroke="#000" stroke-width="0.8" fill="none" />
<path d="M821.2,482 L826.3,483.6 L826.3,488.6 L821.2,487.2 Z" stroke="#000" stroke-width="1.2" fill="#fff" />
<path d="M826.3,486.4 C826.9,486.1 829.1,484.4 830.2,484.7 C831.3,485 831.9,486.8 833,488 C834.1,489.2 834.9,490.8 836.9,492 C838.9,493.2 842.4,494.4 845,495.5 C847.6,496.6 850.5,497.2 852.5,498.7 C854.5,500.2 855.9,502.6 857,504.3 C858.1,506 858.9,508.1 859.3,508.8" stroke="#000" stroke-width="1.5" fill="none" />
<path d="M829.8,486.5 C830.7,487.2 832.3,489.3 835,491 C837.7,492.7 842.9,495.1 846,496.5 C849.1,497.9 852.2,499.1 853.5,499.6" stroke="#000" stroke-width="0.8" fill="none" />
<path d="M859.3,508.8 C859.9,509.1 861.7,510.2 863,510.4 C864.3,510.6 865.3,510.5 867.1,509.9 C868.9,509.2 872.7,507.1 873.8,506.5" stroke="#000" stroke-width="2" fill="none" />
<ellipse cx="861.5" cy="510.5" rx="2" ry="1.4" transform="rotate(0 861.5 510.5)" fill="#888" stroke="#000" stroke-width="1.2"/>
<line x1="833.7" y1="453.9" x2="859.6" y2="464.8" stroke="#000" stroke-width="1"/>
<line x1="827.8" y1="457.5" x2="860.4" y2="470.8" stroke="#000" stroke-width="1.3"/>
<line x1="828.4" y1="460.4" x2="859" y2="473.4" stroke="#000" stroke-width="2.9"/>
<line x1="828.4" y1="463.5" x2="857.4" y2="475.2" stroke="#000" stroke-width="1.4"/>
<line x1="832" y1="461.2" x2="846" y2="467.2" stroke="#eee" stroke-width="0.6" stroke-dasharray="3 2"/>
<path d="M860.4,465.2 L863.2,463.6 L867.1,465.3 L867.1,474.1 L860.9,473 Z" stroke="#000" stroke-width="1.7" fill="#fff" />
<line x1="863.6" y1="466" x2="863.8" y2="473.4" stroke="#000" stroke-width="1"/>
<path d="M867,470.8 C868.1,470.6 871.3,469.9 873.7,469.8 C876.1,469.7 879.4,469.4 881.6,470 C883.8,470.6 885.4,471.5 887.1,473.2 C888.8,474.9 890.9,477.8 891.9,480.3 C892.9,482.8 893.4,485.8 893.4,488.2 C893.4,490.6 893.5,492.3 891.9,494.5 C890.3,496.7 887,499.5 884,501.6 C881,503.7 875.4,506.2 873.7,507.1" stroke="#000" stroke-width="1.3" fill="none" />
<path d="M867,474.2 C868,474.9 871.4,476.1 872.9,478.2 C874.4,480.3 875.6,483.6 875.8,486.6 C876,489.6 875.1,492.9 874.2,496.1 C873.3,499.3 872,503.3 870.2,505.6 C868.4,507.9 864.5,509.3 863.4,510 L860.5,507.8 C861.4,507.1 864.5,505.5 866,503.5 C867.5,501.5 868.9,498.7 869.8,496 C870.7,493.3 871.3,490 871.3,487.5 C871.2,485 870.5,482.8 869.5,481 C868.5,479.2 865.8,477.2 865,476.5 Z" stroke="#000" stroke-width="1.2" fill="#333" />
<path d="M866,475.6 C866.9,476.3 870,477.9 871.2,479.8 C872.5,481.7 873.4,484.3 873.5,487 C873.6,489.7 872.9,493.1 872,496 C871.1,498.9 869.7,502.4 868,504.5 C866.3,506.6 863,508.1 862,508.8" stroke="#ddd" stroke-width="0.7" fill="none" />
<path d="M868.5,473.8 C869.5,474.5 873.1,475.9 874.6,478 C876.1,480.1 877.4,483.5 877.6,486.6 C877.8,489.7 876.9,493.2 876,496.4 C875.1,499.6 872.7,504.4 872,506" stroke="#000" stroke-width="1" fill="none" />
<path d="M872.5,477.2 L879.2,477.9 L887.1,476.3" stroke="#000" stroke-width="1" fill="none" />
<path d="M876,476 L881.6,476.2 L880.6,479 L875.6,479.2 Z" stroke="#000" stroke-width="0.8" fill="#333" />
<path d="M878.4,489.8 L891.9,481.9" stroke="#000" stroke-width="1" fill="none" />
<path d="M876.1,492.9 C876.8,493.3 879,494.2 880,495.3 C881,496.4 882.1,497.9 882.4,499.2 C882.7,500.5 881.7,502.5 881.6,503.2" stroke="#000" stroke-width="1.1" fill="none" />
<path d="M876.8,502.4 L881.6,500" stroke="#000" stroke-width="0.9" fill="none" />
<ellipse cx="858.6" cy="486.6" rx="2.9" ry="2.4" transform="rotate(-20 858.6 486.6)" fill="#555" stroke="#000" stroke-width="1.5"/>
<path d="M853.5,497.2 L857.5,495.2 L864,496.8 L864.5,501.4 L860.5,503.4 L854.5,501.6 Z" stroke="#000" stroke-width="1.5" fill="#fff" />
<ellipse cx="854.6" cy="499.6" rx="1.6" ry="2.4" transform="rotate(-10 854.6 499.6)" fill="#777" stroke="#000" stroke-width="1.3"/>
<line x1="860" y1="496.5" x2="860.3" y2="502.8" stroke="#000" stroke-width="1"/>
<text transform="translate(907.7,163) scale(0.625,1)" text-anchor="middle" font-size="20" font-weight="bold">6</text>
<text transform="translate(970,84.8) scale(0.625,1)" text-anchor="middle" font-size="20" font-weight="bold">8</text>
<line x1="902.2" y1="155.6" x2="849.2" y2="164.1" stroke="#000" stroke-width="1"/>
<line x1="963.8" y1="79.4" x2="924.4" y2="75" stroke="#000" stroke-width="1"/>
<path d="M751.5,144.3 C753.8,142.4 760.2,137 765,133 C769.8,129 775.5,124.2 780,120.5 C784.5,116.8 788.1,113.6 792,111 C795.9,108.4 798.8,106.2 803.3,104.9 C807.8,103.6 813,102.7 818.9,103.2 C824.8,103.8 833.2,106.5 838.7,108.2 C844.2,109.9 848.4,111.5 852,113.5 C855.6,115.5 858.5,117 860.5,120 C862.5,123 864,127.1 864.2,131.2 C864.4,135.2 863.8,139.4 861.7,144.3 C859.6,149.2 855.1,156.3 851.8,160.8 C848.5,165.3 845,168.4 842,171.5 C839,174.6 835.2,178.1 833.8,179.4" stroke="#000" stroke-width="1.05" fill="none" />
<path d="M761.8,167.5 L767.4,192.1 L833.9,212.2 L831.7,184.8 Z" stroke="#000" stroke-width="1.05" fill="#fff" />
<path d="M765.2,171.5 L770.7,189.3 L828.9,207.2 L827.2,186.5" stroke="#000" stroke-width="0.9" fill="none" />
<path d="M833.9,212.2 L834.7,208.3 L833.4,182.6" stroke="#000" stroke-width="0.9" fill="none" />
<path d="M770.9,177 L772.8,188 L777.6,190.4" stroke="#000" stroke-width="0.9" fill="none" />
<path d="M772.6,176.6 L776.6,183.6 L781.6,185.4" stroke="#000" stroke-width="0.9" fill="none" />
<path d="M781.9,182.6 L778.6,190.4" stroke="#000" stroke-width="0.9" fill="none" />
<path d="M786.2,184.4 L782.8,193.2" stroke="#000" stroke-width="0.9" fill="none" />
<ellipse cx="780.6" cy="192.1" rx="2.3" ry="1.8" transform="rotate(25 780.6 192.1)" fill="#fff" stroke="#000" stroke-width="0.9"/>
<path d="M790.6,184.6 L789.6,191.8" stroke="#000" stroke-width="1" fill="none" />
<ellipse cx="798.7" cy="192.1" rx="6.3" ry="5.6" transform="rotate(25 798.7 192.1)" fill="#fff" stroke="#000" stroke-width="1.05"/>
<ellipse cx="799" cy="192.4" rx="4.6" ry="4" transform="rotate(25 799 192.4)" fill="#fff" stroke="#000" stroke-width="1.05"/>
<path d="M809.2,190.8 L805.8,198.6" stroke="#000" stroke-width="0.9" fill="none" />
<path d="M813.4,192.8 L810,201.6" stroke="#000" stroke-width="0.9" fill="none" />
<ellipse cx="807.8" cy="200.4" rx="2.3" ry="1.8" transform="rotate(25 807.8 200.4)" fill="#fff" stroke="#000" stroke-width="0.9"/>
<path d="M809.5,188.5 L815.8,188.3 L817.6,192.8 L813.4,192.8 Z" stroke="#000" stroke-width="1.3" fill="#555" />
<path d="M816.6,196.4 L826.6,188.8 L828,204.8 L816.6,201.2" stroke="#000" stroke-width="0.9" fill="none" />
<path d="M818.6,199.2 L825.2,193.8 L826,202.4" stroke="#000" stroke-width="0.8" fill="none" />
<path d="M750.4,146.8 C750.4,144.8 750.6,143.8 751.6,142.6 C752.6,141.4 754.1,140.2 756.2,139.5 C758.3,138.8 761.2,138.4 764,138.2 C766.8,138 767.8,137.5 773,138.4 C778.2,139.3 787.8,140.5 795.3,143.4 C802.8,146.3 811.9,151.6 817.7,155.7 C823.5,159.8 827.3,164.3 830,168 C832.7,171.7 833.5,175.8 833.9,178.1 C834.3,180.4 833.2,181 832.6,182 C832,183 831.7,183.2 830,183.9 C828.3,184.6 824.8,185.6 822.2,185.9 C819.6,186.2 818,186.2 814.4,185.9 C810.8,185.6 805.9,185.4 800.9,184.3 C795.9,183.2 789.7,181.3 784.1,179.2 C778.5,177 771.1,173.3 767.4,171.4 C763.7,169.5 763.7,169 761.8,167.5 C759.9,166 757.9,164.6 756.2,162.4 C754.5,160.2 752.7,157.2 751.7,154.6 C750.7,152 750.4,148.8 750.4,146.8 Z" stroke="#000" stroke-width="1.05" fill="#fff" />
<path d="M752.4,146.8 C752.5,145.1 752.7,144.9 753.5,144.1 C754.2,143.3 755.2,142.3 757,141.8 C758.8,141.2 761.6,140.8 764.2,140.6 C766.8,140.4 767.6,139.9 772.6,140.8 C777.7,141.6 787.1,142.8 794.4,145.6 C801.7,148.5 810.7,153.7 816.3,157.6 C822,161.6 825.6,165.8 828.3,169.3 C830.9,172.7 831.6,176.4 832.1,178.4 C832.7,180.4 832,180.6 831.5,181.3 C831.1,182 831.1,182.1 829.5,182.7 C828,183.2 824.5,184.3 822,184.6 C819.5,184.9 818,184.9 814.5,184.6 C811,184.3 806.2,184.1 801.2,183 C796.2,181.9 790.1,180.1 784.6,178 C779,175.9 771.7,172.2 768,170.2 C764.4,168.3 764.4,167.9 762.6,166.4 C760.9,165 758.9,163.5 757.4,161.5 C755.8,159.4 754.2,156.4 753.4,154 C752.5,151.5 752.4,148.4 752.4,146.8 Z" stroke="#000" stroke-width="0.9" fill="none" />
<path d="M755.5,146.8 C755.6,145.6 756,146.7 756.5,146.5 C756.9,146.2 756.9,145.7 758.3,145.3 C759.6,145 762.1,144.5 764.4,144.4 C766.7,144.2 767.2,143.7 772,144.5 C776.8,145.3 786,146.5 793.1,149.2 C800.1,151.9 808.7,157.1 814.1,160.7 C819.6,164.4 823,168.1 825.6,171.2 C828.2,174.2 829,177.3 829.8,178.9 C830.6,180.4 830.6,180.1 830.4,180.5 C830.3,181 830.5,181 829.1,181.5 C827.7,181.9 824.3,183 821.9,183.3 C819.5,183.6 818,183.6 814.6,183.3 C811.2,183 806.4,182.9 801.5,181.8 C796.5,180.7 790.5,178.9 785,176.8 C779.6,174.7 772.2,171 768.6,169.1 C765,167.2 765.2,166.8 763.5,165.3 C761.9,163.9 760.1,162.4 758.8,160.4 C757.5,158.3 756.1,155.4 755.6,153.2 C755,150.9 755.3,147.9 755.5,146.8 Z" stroke="#000" stroke-width="1.3" fill="none" />
<path d="M760.7,150.1 C761.1,149.6 762,147.7 763,147 C764,146.3 765.3,145.9 767,145.7 C768.7,145.5 768.3,144.8 773,145.7 C777.7,146.6 787.8,148.1 795.3,151.3 C802.8,154.5 812.3,160.8 817.7,164.7 C823.1,168.6 826.1,173 827.8,174.7" stroke="#000" stroke-width="0.95" fill="none" />
<path d="M827.8,174.7 L826.6,176.4 L822,177.2 L818.8,178.3 L818.8,182" stroke="#000" stroke-width="0.95" fill="none" />
<path d="M818.8,182 C817.7,182.2 816,183.4 812.1,183.1 C808.2,182.8 800.9,182 795.3,180.3 C789.7,178.6 782.5,175.2 778.6,173.1 C774.7,171 772.9,168.8 771.8,168" stroke="#000" stroke-width="0.95" fill="none" />
<path d="M771.8,168 L771.8,161.9 L767.4,160.2" stroke="#000" stroke-width="0.95" fill="none" />
<path d="M767.4,160.2 C766.5,159.4 762.9,157.4 761.8,155.7 C760.7,154 760.9,151 760.7,150.1" stroke="#000" stroke-width="0.95" fill="none" />
<path d="M763.2,154.6 C763.1,153.9 762.4,151.7 762.6,150.6 C762.8,149.5 762.9,148.7 764.6,148.2 C766.3,147.7 768,146.8 773,147.6 C778,148.4 787.4,149.9 794.6,153 C801.8,156.1 811.4,162.5 816.4,166 C821.4,169.5 823.2,172.8 824.6,174.2" stroke="#000" stroke-width="0.8" fill="none" />
<path d="M763.2,154.6 C763.6,155 764.7,156.5 765.6,157.2 C766.5,157.9 768.1,158.5 768.6,158.8" stroke="#000" stroke-width="0.8" fill="none" />
<line x1="786.2" y1="164" x2="692.9" y2="268.8" stroke="#000" stroke-width="0.95"/>
<line x1="793.4" y1="174" x2="698.7" y2="273.8" stroke="#000" stroke-width="0.95"/>
<ellipse cx="793.1" cy="163.6" rx="15" ry="10.6" transform="rotate(28 793.1 163.6)" fill="#fff" stroke="#000" stroke-width="1.05"/>
<ellipse cx="793" cy="163.5" rx="13.6" ry="9.3" transform="rotate(29 793 163.5)" fill="none" stroke="#000" stroke-width="0.9"/>
<rect x="783.6" y="157" width="19.5" height="11.6" rx="5.8" transform="rotate(38 793.4 162.8)" fill="#fff" stroke="#000" stroke-width="1.3"/>
<rect x="784.7" y="158" width="17.4" height="9.6" rx="4.8" transform="rotate(38 793.4 162.8)" fill="none" stroke="#000" stroke-width="0.9"/>
<rect x="786.3" y="159" width="14.6" height="7.2" rx="3.6" transform="rotate(38 793.6 162.6)" fill="none" stroke="#000" stroke-width="1.1"/>
<line x1="787.6" y1="160.6" x2="797.6" y2="168.6" stroke="#000" stroke-width="0.9"/>
<path d="M686.3,266 L700.6,279.5 L689.6,293 L674.6,278.7 Z" stroke="#000" stroke-width="1.05" fill="#fff" stroke-linejoin="round"/>
<path d="M686.4,268.6 L698,279.6 L689.4,290.2 L677.2,278.7 Z" stroke="#000" stroke-width="0.9" fill="#fff" />
<path d="M685.8,271.4 L694.8,279.8 L689.2,287 L680,278.4 Z" stroke="#000" stroke-width="0.8" fill="#333" />
<path d="M684.8,274 L688.6,277.5 M687.5,279.6 L691,282.8 M683.5,278 L686,280.3" stroke="#fff" stroke-width="0.9" fill="none" />
<path d="M692.2,270.4 L692.9,268.8" stroke="#000" stroke-width="1.5" fill="none" />
<path d="M697.6,275.6 L698.7,273.8" stroke="#000" stroke-width="1.5" fill="none" />
<line x1="900.5" y1="86.3" x2="882.7" y2="107.2" stroke="#000" stroke-width="0.9" stroke-dasharray="17 1.6 1.6 1.6"/>
<path d="M882.7,107.2 L871.3,103.6" stroke="#000" stroke-width="0.9" fill="none" />
<line x1="871.3" y1="103.6" x2="858" y2="118.2" stroke="#000" stroke-width="0.9" stroke-dasharray="17 1.6 1.6 1.6"/>
<ellipse cx="926.3" cy="60.4" rx="14.6" ry="11.4" transform="rotate(42 926.3 60.4)" fill="#fff" stroke="#000" stroke-width="1.05"/>
<ellipse cx="924.4" cy="61.8" rx="13.6" ry="10.6" transform="rotate(42 924.4 61.8)" fill="#fff" stroke="#000" stroke-width="1.05"/>
<ellipse cx="922.6" cy="63.6" rx="6.8" ry="5" transform="rotate(42 922.6 63.6)" fill="#fff" stroke="#000" stroke-width="1.05"/>
<ellipse cx="921.6" cy="64.6" rx="6.2" ry="4.6" transform="rotate(42 921.6 64.6)" fill="#fff" stroke="#000" stroke-width="0.9"/>
<path d="M917.4,60.6 L900.6,76.6 L910.2,86.6 L927,70.4 Z" stroke="none" stroke-width="0" fill="#fff" />
<line x1="917.2" y1="60.6" x2="900.6" y2="76.8" stroke="#000" stroke-width="1.05"/>
<line x1="927.2" y1="70.4" x2="910.4" y2="86.4" stroke="#000" stroke-width="1.05"/>
<ellipse cx="905.2" cy="81.6" rx="6.4" ry="4.7" transform="rotate(40 905.2 81.6)" fill="#fff" stroke="#000" stroke-width="2"/>
<path d="M54.9,707.6 L69.6,678.5 L71.4,684.1 L98.1,664.3 L102.7,679.5 L75.6,699.3 L78.8,705.7 Z" stroke="#000" stroke-width="0.9" fill="#fff" />
<path d="M54.9,707.6 L49.3,705.2 L65,676.5 L69.6,678.5 Z" stroke="#000" stroke-width="0.9" fill="#fff" />
<path d="M69.6,678.5 L71,680.2 L93.1,662 L98.1,664.3 L71.4,684.1 Z" stroke="#000" stroke-width="0.9" fill="#fff" />
<text transform="translate(74.2,698.6) rotate(-36.5) skewX(-10) scale(0.84,1.12)" font-family="Liberation Serif,serif" font-style="italic" font-weight="bold" font-size="15.5" fill="#222">FWD</text>
</svg></body></html>
